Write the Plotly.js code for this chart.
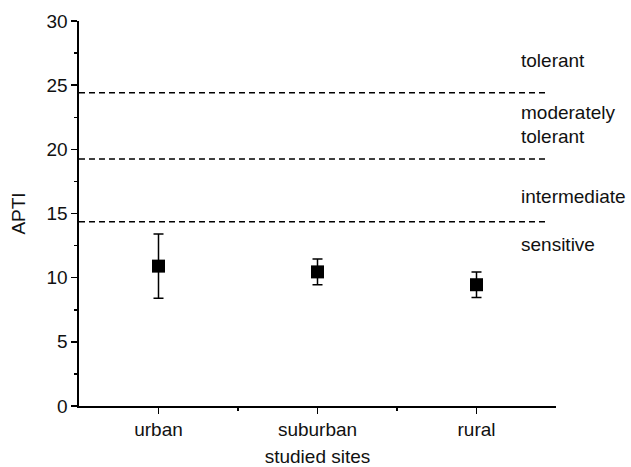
<!DOCTYPE html>
<html>
<head>
<meta charset="utf-8">
<script src="https://cdn.plot.ly/plotly-3.0.1.min.js"></script>
<style>html,body{margin:0;padding:0;background:#fff;}#chart{width:631px;height:467px;}</style>
</head>
<body>
<div id="chart"></div>
<script>
const categories = ["urban", "suburban", "rural"];
const apti = [10.9, 10.45, 9.45];
const aptiErr = [2.5, 1.0, 1.0];
const thresholds = [24.4, 19.25, 14.35];
const zoneLabels = ["tolerant", "moderately", "tolerant", "intermediate", "sensitive"];
const zoneLabelY = [26.9, 22.85, 21.0, 16.3, 12.6];
const yTicks = [0, 5, 10, 15, 20, 25, 30];

const font = {family: "Liberation Sans, Arial, sans-serif", size: 19, color: "#111"};
const xs = categories.map((c, i) => i + 1);

const trace = {
  x: xs,
  y: apti,
  type: "scatter",
  mode: "markers",
  marker: {symbol: "square", size: 13, color: "#000"},
  error_y: {type: "data", array: aptiErr, visible: true, color: "#000", thickness: 1.5, width: 5},
  showlegend: false,
  hoverinfo: "skip"
};

const shapes = thresholds.map(v => ({
  type: "line", xref: "paper", yref: "y",
  x0: 0, x1: 0.98, y0: v, y1: v,
  line: {color: "#000", width: 1.5, dash: "6px,4px"}
}));

const annotations = zoneLabels.map((t, i) => ({
  text: t, xref: "x", yref: "y", x: 3.27, y: zoneLabelY[i],
  xanchor: "left", yanchor: "middle", showarrow: false, font: font
}));

const layout = {
  width: 631, height: 467,
  margin: {l: 79, r: 75, t: 21, b: 61},
  paper_bgcolor: "#fff", plot_bgcolor: "#fff",
  font: font,
  xaxis: {
    range: [0.5, 3.5],
    tickmode: "array", tickvals: xs, ticktext: categories,
    ticks: "outside", ticklen: 6, tickwidth: 1.5, tickcolor: "#000",
    minor: {tickmode: "array", tickvals: [1.5, 2.5], ticks: "outside", ticklen: 3, tickwidth: 1.5, tickcolor: "#000"},
    showline: true, linecolor: "#000", linewidth: 1.6,
    showgrid: false, zeroline: false,
    title: {text: "studied sites", font: font, standoff: 15},
    tickfont: font
  },
  yaxis: {
    range: [0, 30],
    tickmode: "array", tickvals: yTicks,
    ticks: "outside", ticklen: 6, tickwidth: 1.5, tickcolor: "#000",
    minor: {dtick: 2.5, ticks: "outside", ticklen: 3, tickwidth: 1.5, tickcolor: "#000"},
    showline: true, linecolor: "#000", linewidth: 1.6,
    showgrid: false, zeroline: false,
    title: {text: "APTI", font: font, standoff: 16},
    tickfont: font
  },
  shapes: shapes,
  annotations: annotations
};

Plotly.newPlot("chart", [trace], layout, {displayModeBar: false, staticPlot: true});
</script>
</body>
</html>
